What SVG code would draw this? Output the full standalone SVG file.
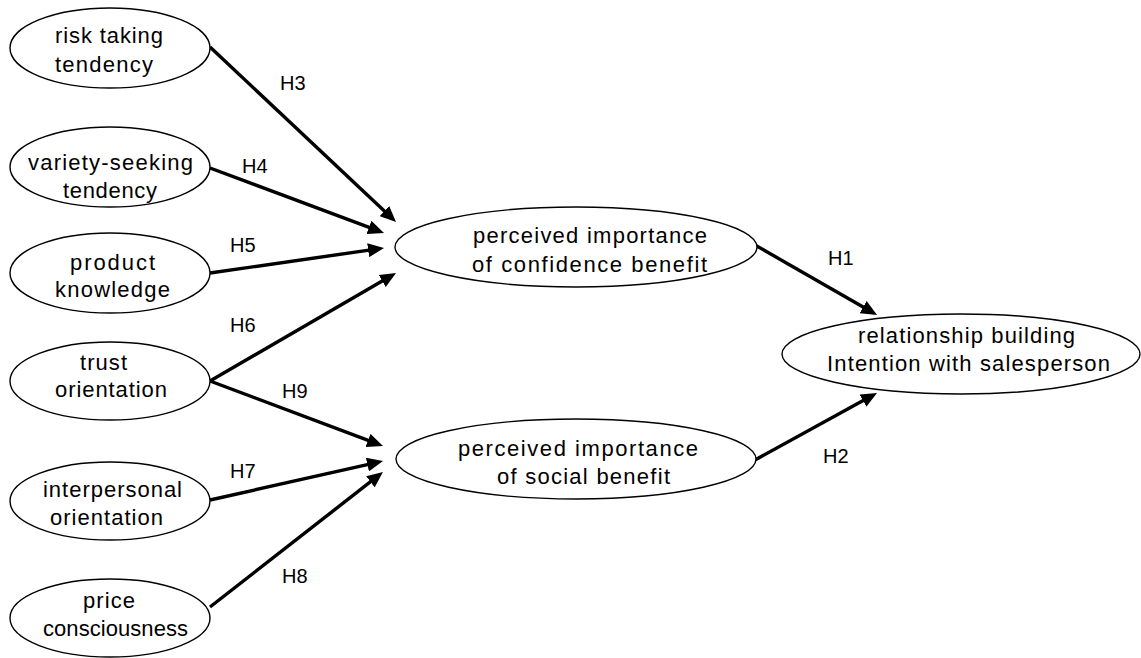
<svg xmlns="http://www.w3.org/2000/svg" width="1141" height="658" viewBox="0 0 1141 658">
<style>
.node ellipse{fill:#fff;stroke:#000;stroke-width:1.4}
.node text{font-family:"Liberation Sans",Arial,sans-serif;font-size:22px;fill:#000}
.lbl{font-family:"Liberation Sans",Arial,sans-serif;font-size:20px;fill:#000}
.conn line{stroke:#000;stroke-width:3.4;fill:none}
</style>
<defs>
<marker id="ah" markerUnits="userSpaceOnUse" markerWidth="16" markerHeight="14" viewBox="0 0 16 14" refX="8" refY="7" orient="auto">
<path d="M0,0 L16,7 L0,14 z" fill="#000"/>
</marker>
</defs>
<rect width="1141" height="658" fill="#fff"/>
<g class="conn">
<line x1="210" y1="47" x2="390.2" y2="216.5" marker-end="url(#ah)"/>
<line x1="210" y1="168" x2="376.5" y2="230.2" marker-end="url(#ah)"/>
<line x1="210" y1="273" x2="376.1" y2="249.1" marker-end="url(#ah)"/>
<line x1="210" y1="381" x2="389.1" y2="277.0" marker-end="url(#ah)"/>
<line x1="210" y1="381" x2="375.5" y2="443.2" marker-end="url(#ah)"/>
<line x1="210" y1="500" x2="375.2" y2="462.8" marker-end="url(#ah)"/>
<line x1="210" y1="607" x2="376.7" y2="476.9" marker-end="url(#ah)"/>
<line x1="755" y1="245" x2="870.1" y2="311.0" marker-end="url(#ah)"/>
<line x1="755" y1="460" x2="870.0" y2="396.8" marker-end="url(#ah)"/>
</g>
<g id="labels">
<text class="lbl" x="280" y="90">H3</text>
<text class="lbl" x="242" y="173">H4</text>
<text class="lbl" x="230" y="252">H5</text>
<text class="lbl" x="230" y="332">H6</text>
<text class="lbl" x="282" y="398">H9</text>
<text class="lbl" x="230" y="478">H7</text>
<text class="lbl" x="282" y="583">H8</text>
<text class="lbl" x="828" y="265">H1</text>
<text class="lbl" x="823" y="463">H2</text>
</g>
<g id="n-risk" class="node">
<ellipse cx="110" cy="48" rx="100" ry="40"/>
<text x="55" y="43" textLength="108" lengthAdjust="spacing">risk taking</text>
<text x="55" y="72" textLength="98" lengthAdjust="spacing">tendency</text>
</g>
<g id="n-variety" class="node">
<ellipse cx="110" cy="167" rx="100" ry="40"/>
<text x="28" y="170" textLength="165" lengthAdjust="spacing">variety-seeking</text>
<text x="63" y="198" textLength="94" lengthAdjust="spacing">tendency</text>
</g>
<g id="n-product" class="node">
<ellipse cx="110" cy="273" rx="100" ry="40"/>
<text x="70" y="270" textLength="85" lengthAdjust="spacing">product</text>
<text x="55" y="297" textLength="115" lengthAdjust="spacing">knowledge</text>
</g>
<g id="n-trust" class="node">
<ellipse cx="110" cy="381" rx="100" ry="39"/>
<text x="80" y="370" textLength="47" lengthAdjust="spacing">trust</text>
<text x="55" y="397" textLength="112" lengthAdjust="spacing">orientation</text>
</g>
<g id="n-interpersonal" class="node">
<ellipse cx="110" cy="501" rx="100" ry="39"/>
<text x="43" y="497" textLength="139" lengthAdjust="spacing">interpersonal</text>
<text x="50" y="525" textLength="113" lengthAdjust="spacing">orientation</text>
</g>
<g id="n-price" class="node">
<ellipse cx="110" cy="618" rx="100" ry="39"/>
<text x="83" y="608" textLength="52" lengthAdjust="spacing">price</text>
<text x="43" y="636" textLength="145" lengthAdjust="spacing">consciousness</text>
</g>
<g id="n-confidence" class="node">
<ellipse cx="576" cy="247" rx="181" ry="40"/>
<text x="473" y="243" textLength="234" lengthAdjust="spacing">perceived importance</text>
<text x="472" y="272" textLength="235" lengthAdjust="spacing">of confidence benefit</text>
</g>
<g id="n-social" class="node">
<ellipse cx="576" cy="459" rx="180" ry="40"/>
<text x="458" y="456" textLength="240" lengthAdjust="spacing">perceived importance</text>
<text x="497" y="484" textLength="173" lengthAdjust="spacing">of social benefit</text>
</g>
<g id="n-relationship" class="node">
<ellipse cx="961" cy="354" rx="179" ry="40"/>
<text x="858" y="343" textLength="217" lengthAdjust="spacing">relationship building</text>
<text x="827" y="371" textLength="283" lengthAdjust="spacing">Intention with salesperson</text>
</g>
</svg>
